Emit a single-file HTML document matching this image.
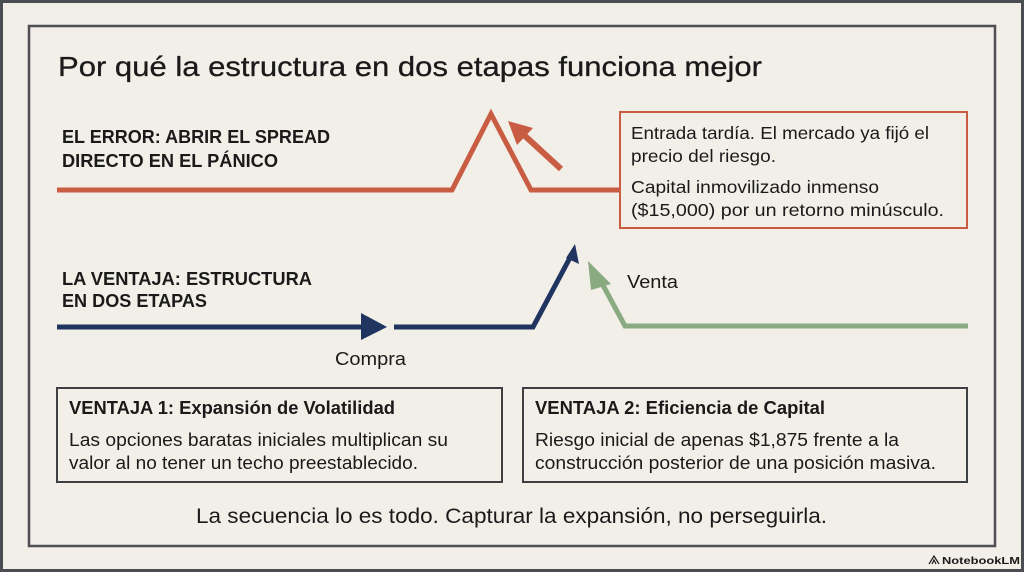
<!DOCTYPE html>
<html><head><meta charset="utf-8"><style>
html,body{margin:0;padding:0;background:#4a4d52;}
svg{display:block;}
text{font-family:"Liberation Sans",sans-serif;fill:#1a1a1a;}
</style></head><body>
<svg width="1024" height="572" viewBox="0 0 1024 572" xmlns="http://www.w3.org/2000/svg">
<rect x="3" y="3" width="1018" height="566" fill="#f1efe8"/>
<rect x="29" y="26" width="966" height="520" fill="none" stroke="#4d4f52" stroke-width="2.5"/>
<text x="58" y="76" font-size="28" textLength="704" lengthAdjust="spacingAndGlyphs" stroke="#1a1a1a" stroke-width="0.3">Por qué la estructura en dos etapas funciona mejor</text>

<text x="62" y="143" font-size="18.5" font-weight="bold" textLength="268" lengthAdjust="spacingAndGlyphs">EL ERROR: ABRIR EL SPREAD</text>
<text x="62" y="167" font-size="18.5" font-weight="bold" textLength="216" lengthAdjust="spacingAndGlyphs">DIRECTO EN EL PÁNICO</text>

<polyline points="57,190 452,190 491,114 531,190 620,190" fill="none" stroke="#c95d43" stroke-width="5" stroke-linejoin="miter"/>
<line x1="561" y1="169" x2="524" y2="135" stroke="#c95d43" stroke-width="6"/>
<polygon points="508,121 533,128 517,145" fill="#c95d43"/>

<rect x="620" y="112" width="347" height="116" fill="none" stroke="#c95d43" stroke-width="2"/>
<text x="631" y="139" font-size="17.5" textLength="298" lengthAdjust="spacingAndGlyphs">Entrada tardía. El mercado ya fijó el</text>
<text x="631" y="162" font-size="17.5" textLength="145" lengthAdjust="spacingAndGlyphs">precio del riesgo.</text>
<text x="631" y="193" font-size="17.5" textLength="248" lengthAdjust="spacingAndGlyphs">Capital inmovilizado inmenso</text>
<text x="631" y="216" font-size="17.5" textLength="313" lengthAdjust="spacingAndGlyphs">($15,000) por un retorno minúsculo.</text>

<text x="62" y="285" font-size="18.5" font-weight="bold" textLength="250" lengthAdjust="spacingAndGlyphs">LA VENTAJA: ESTRUCTURA</text>
<text x="62" y="307" font-size="18.5" font-weight="bold" textLength="145" lengthAdjust="spacingAndGlyphs">EN DOS ETAPAS</text>

<line x1="57" y1="327" x2="362" y2="327" stroke="#1f3560" stroke-width="5"/>
<polygon points="361,313 387,327 361,340" fill="#1f3560"/>
<polyline points="394,327 533,327 572,254" fill="none" stroke="#1f3560" stroke-width="5"/>
<polygon points="575,244 579,264 566,258" fill="#1f3560"/>

<polyline points="968,326 625,326 598,276" fill="none" stroke="#8aaa82" stroke-width="5"/>
<polygon points="588,261 611,284 591,290" fill="#8aaa82"/>

<text x="627" y="288" font-size="18" textLength="51" lengthAdjust="spacingAndGlyphs">Venta</text>
<text x="335" y="365" font-size="18" textLength="71" lengthAdjust="spacingAndGlyphs">Compra</text>

<rect x="57" y="388" width="445" height="94" fill="none" stroke="#3d3f42" stroke-width="2"/>
<rect x="523" y="388" width="444" height="94" fill="none" stroke="#3d3f42" stroke-width="2"/>
<text x="69" y="414" font-size="18" font-weight="bold" textLength="326" lengthAdjust="spacingAndGlyphs">VENTAJA 1: Expansión de Volatilidad</text>
<text x="69" y="446" font-size="18" textLength="379" lengthAdjust="spacingAndGlyphs">Las opciones baratas iniciales multiplican su</text>
<text x="69" y="469" font-size="18" textLength="349" lengthAdjust="spacingAndGlyphs">valor al no tener un techo preestablecido.</text>
<text x="535" y="414" font-size="18" font-weight="bold" textLength="290" lengthAdjust="spacingAndGlyphs">VENTAJA 2: Eficiencia de Capital</text>
<text x="535" y="446" font-size="18" textLength="364" lengthAdjust="spacingAndGlyphs">Riesgo inicial de apenas $1,875 frente a la</text>
<text x="535" y="469" font-size="18" textLength="401" lengthAdjust="spacingAndGlyphs">construcción posterior de una posición masiva.</text>

<text x="196" y="523" font-size="21" textLength="631" lengthAdjust="spacingAndGlyphs">La secuencia lo es todo. Capturar la expansión, no perseguirla.</text>
<text x="942" y="564" font-size="10" font-weight="bold" textLength="78" lengthAdjust="spacingAndGlyphs">NotebookLM</text>
<path d="M929,564 L934,556 L939,564 M932,564 L934,560 L936,564" fill="none" stroke="#1a1a1a" stroke-width="1.2"/>
</svg>
</body></html>
